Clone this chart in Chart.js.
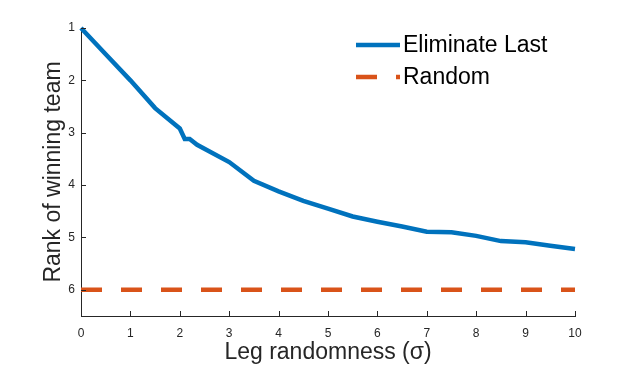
<!DOCTYPE html>
<html>
<head>
<meta charset="utf-8">
<script src="https://cdn.jsdelivr.net/npm/chart.js@4"></script>
<style>
  html, body { margin: 0; padding: 0; background: #fff; }
  #wrap { width: 634px; height: 370px; }
</style>
</head>
<body>
<div id="wrap"><canvas id="chart" width="634" height="370"></canvas></div>
<script>
// ── Data ──────────────────────────────────────────────────────
const sigma = [0, 0.5, 1, 1.5, 2, 2.1, 2.2, 2.35, 3, 3.5, 4, 4.5, 5, 5.5, 6, 6.5, 7, 7.5, 8, 8.5, 9, 9.5, 10];
const eliminateLast = [1.0, 1.5, 2.0, 2.53, 2.92, 3.12, 3.12, 3.23, 3.56, 3.92, 4.12, 4.3, 4.45, 4.6, 4.7, 4.79, 4.89, 4.9, 4.97, 5.07, 5.09, 5.16, 5.22];
const randomX = [0, 10];
const randomRank = [6, 6];
const xTicks = [0, 1, 2, 3, 4, 5, 6, 7, 8, 9, 10];
const yTicks = [1, 2, 3, 4, 5, 6];

const BLUE = '#0072BD';
const ORANGE = '#D95319';
const AXIS = '#262626';
const FONT = '"Liberation Sans", Arial, sans-serif';

// ── Plugins ───────────────────────────────────────────────────
// MATLAB-style inward tick marks
const innerTicks = {
    id: 'innerTicks',
    afterDatasetsDraw(c) {
        const { ctx, chartArea: a, scales: { x, y } } = c;
        ctx.save();
        ctx.strokeStyle = AXIS;
        ctx.lineWidth = 1;
        ctx.beginPath();
        xTicks.forEach(v => {
            const px = Math.round(x.getPixelForValue(v)) + 0.5;
            ctx.moveTo(px, a.bottom);
            ctx.lineTo(px, a.bottom - 5);
        });
        yTicks.forEach(v => {
            const py = Math.round(y.getPixelForValue(v)) + 0.5;
            ctx.moveTo(a.left, py);
            ctx.lineTo(a.left + 5, py);
        });
        ctx.stroke();
        ctx.restore();
    }
};

// legend without a box, line samples on the left
const lineLegend = {
    id: 'lineLegend',
    afterDraw(c) {
        const { ctx } = c;
        const x0 = 356, x1 = 400, rows = [45, 77];
        ctx.save();
        ctx.font = '23px ' + FONT;
        ctx.textBaseline = 'middle';
        c.data.datasets.forEach((ds, i) => {
            ctx.strokeStyle = ds.borderColor;
            ctx.lineWidth = ds.borderWidth;
            ctx.setLineDash(ds.borderDash || []);
            ctx.beginPath();
            ctx.moveTo(x0, rows[i]);
            ctx.lineTo(x1, rows[i]);
            ctx.stroke();
            ctx.fillStyle = '#000';
            ctx.fillText(ds.label, x1 + 3, rows[i] + 1);
        });
        ctx.restore();
    }
};

// ── Chart ─────────────────────────────────────────────────────
const ctx = document.getElementById('chart').getContext('2d');

new Chart(ctx, {
    type: 'line',
    data: {
        datasets: [
            {
                label: 'Eliminate Last',
                data: sigma.map((s, i) => ({ x: s, y: eliminateLast[i] })),
                borderColor: BLUE,
                borderWidth: 4.5,
                pointRadius: 0,
                tension: 0,
                clip: 6
            },
            {
                label: 'Random',
                data: randomX.map((s, i) => ({ x: s, y: randomRank[i] })),
                borderColor: ORANGE,
                borderWidth: 4.5,
                borderDash: [21, 19],
                pointRadius: 0,
                clip: 6
            }
        ]
    },
    options: {
        responsive: false,
        animation: false,
        layout: { padding: { top: 28, right: 59, left: 40, bottom: 0 } },
        plugins: {
            legend: { display: false },
            tooltip: { enabled: false }
        },
        scales: {
            x: {
                type: 'linear',
                min: 0,
                max: 10,
                afterBuildTicks: s => { s.ticks = xTicks.map(v => ({ value: v })); },
                afterFit: s => { s.height = 54; },
                grid: { display: false, drawTicks: false },
                border: { color: AXIS, width: 1 },
                ticks: {
                    color: AXIS,
                    font: { family: FONT, size: 12 },
                    padding: 10,
                    maxRotation: 0
                },
                title: {
                    display: true,
                    text: 'Leg randomness (\u03c3)',
                    color: AXIS,
                    font: { family: FONT, size: 23 },
                    padding: { top: 3 }
                }
            },
            y: {
                type: 'linear',
                reverse: true,
                min: 1,
                max: 6.5,
                afterBuildTicks: s => { s.ticks = yTicks.map(v => ({ value: v })); },
                afterFit: s => { s.width = 41; },
                grid: { display: false, drawTicks: false },
                border: { color: AXIS, width: 1 },
                ticks: {
                    color: AXIS,
                    font: { family: FONT, size: 12 },
                    padding: 6
                },
                title: {
                    display: true,
                    text: 'Rank of winning team',
                    color: AXIS,
                    font: { family: FONT, size: 23 },
                    padding: { top: 0, bottom: 0 }
                }
            }
        }
    },
    plugins: [innerTicks, lineLegend]
});
</script>
</body>
</html>
